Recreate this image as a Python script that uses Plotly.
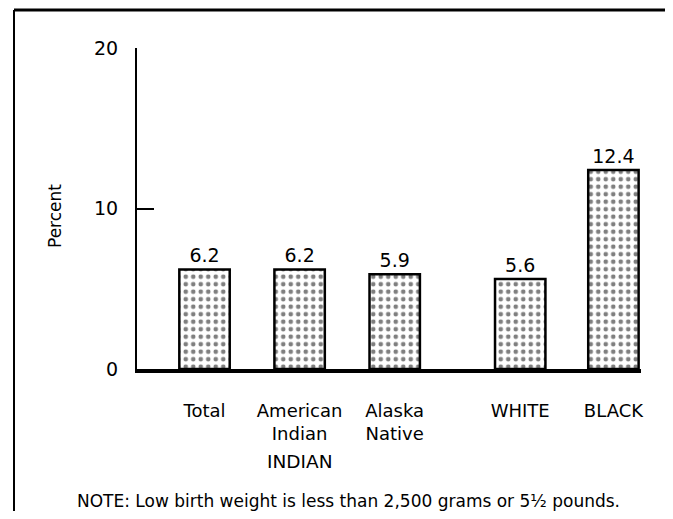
import plotly.graph_objects as go

categories = ["Total", "American<br>Indian", "Alaska<br>Native", "WHITE", "BLACK"]
values = [6.2, 6.2, 5.9, 5.6, 12.4]
value_labels = ["6.2", "6.2", "5.9", "5.6", "12.4"]
y_ticks = [0, 10, 20]
y_title = "Percent"
group_label = "INDIAN"
note = "NOTE: Low birth weight is less than 2,500 grams or 5½ pounds."

# layout: gap between the Indian group and the other races
positions = [0, 1, 2, 3.32, 4.3]

OFF = 8  # default body margin of the html page
W, H = 673 - 2 * OFF, 519 - 2 * OFF
# plot area in reference-image pixels
X0, X1, Y0, Y1 = 137, 641, 48, 369
L, R, T, B = X0 - OFF, W - (X1 - OFF), Y0 - OFF, H - (Y1 - OFF)
pw, ph = W - L - R, H - T - B

def px_x(x):
    return (x - OFF - L) / pw

def px_y(y):
    return (H - B - (y - OFF)) / ph

font = "DejaVu Sans, Verdana, sans-serif"

fig = go.Figure(go.Bar(
    x=positions, y=values, width=0.53,
    text=value_labels, textposition="outside",
    textfont=dict(size=19, color="black", family=font),
    cliponaxis=False,
    marker=dict(color="white",
                line=dict(color="black", width=2.5),
                pattern=dict(shape=".", fgcolor="black", bgcolor="white",
                             size=7.5, solidity=0.3)),
))

fig.update_layout(
    width=W, height=H,
    margin=dict(l=L, r=R, t=T, b=B),
    paper_bgcolor="white", plot_bgcolor="white",
    showlegend=False,
    font=dict(family=font, color="black"),
    xaxis=dict(range=[-0.71, 4.59], tickvals=positions, ticktext=categories,
               showline=True, linecolor="black", linewidth=4,
               ticks="", showgrid=False, zeroline=False,
               tickfont=dict(size=18), ticklabelstandoff=22),
    yaxis=dict(range=[0, 20], tickvals=y_ticks, showline=True,
               linecolor="black", linewidth=2, ticks="inside", ticklen=17,
               tickwidth=2, tickcolor="black", showgrid=False, zeroline=False,
               tickfont=dict(size=19), ticklabelstandoff=13),
)

fig.add_annotation(x=px_x(55), y=px_y(216), xref="paper", yref="paper",
                   xanchor="center", yanchor="middle",
                   text=y_title, textangle=-90, showarrow=False,
                   font=dict(size=17))
fig.add_annotation(x=positions[1], y=px_y(461), xref="x", yref="paper",
                   xanchor="center", yanchor="middle",
                   text=group_label, showarrow=False, font=dict(size=18.5))
fig.add_annotation(x=px_x(348), y=px_y(501), xref="paper", yref="paper",
                   xanchor="center", yanchor="middle",
                   text=note, showarrow=False, font=dict(size=17))

# frame lines (top and left)
fig.add_shape(type="line", xref="paper", yref="paper",
              x0=px_x(14), x1=px_x(673), y0=px_y(10), y1=px_y(10),
              line=dict(color="black", width=3))
fig.add_shape(type="line", xref="paper", yref="paper",
              x0=px_x(14), x1=px_x(14), y0=px_y(10), y1=px_y(519),
              line=dict(color="black", width=2))

fig.write_html("out.html")
